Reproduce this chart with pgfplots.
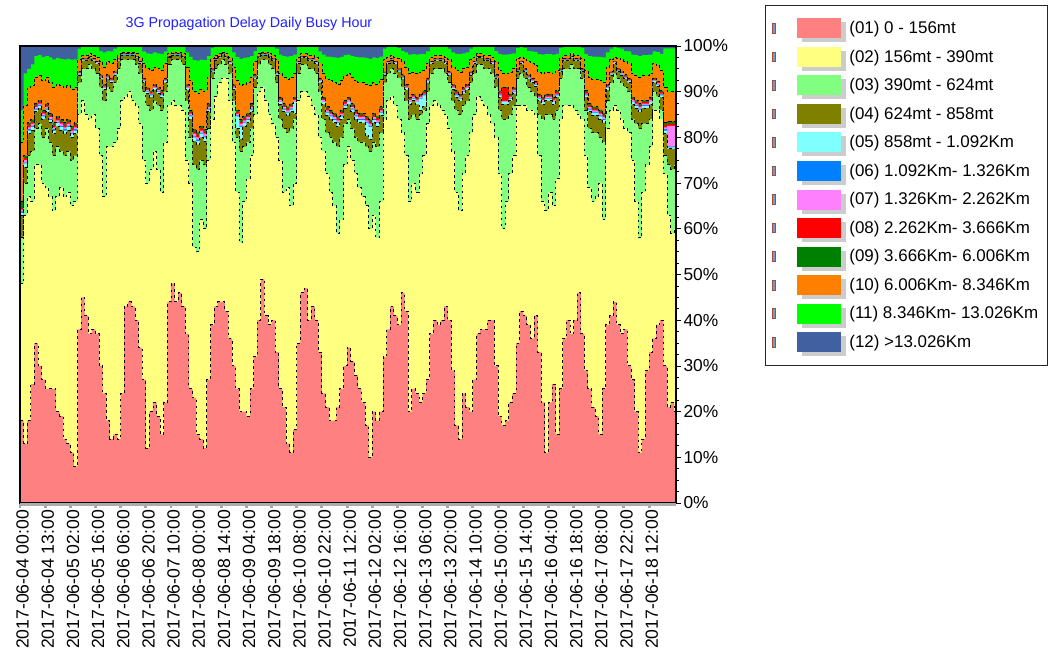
\documentclass[border=0pt]{standalone}
\usepackage{pgfplots}
\pgfplotsset{compat=1.18}
\usepackage{pgfplotstable}
\usepackage{fontspec}
\setmainfont{Liberation Sans}
\definecolor{c01}{RGB}{255,128,128}
\definecolor{c02}{RGB}{255,255,128}
\definecolor{c03}{RGB}{128,255,128}
\definecolor{c04}{RGB}{128,128,0}
\definecolor{c05}{RGB}{128,255,255}
\definecolor{c06}{RGB}{0,128,255}
\definecolor{c07}{RGB}{255,128,255}
\definecolor{c08}{RGB}{255,0,0}
\definecolor{c09}{RGB}{0,128,0}
\definecolor{c10}{RGB}{255,128,0}
\definecolor{c11}{RGB}{0,255,0}
\definecolor{c12}{RGB}{64,96,160}
\definecolor{titleblue}{RGB}{32,32,255}
\definecolor{iconbrown}{RGB}{160,80,50}
\definecolor{iconblue}{RGB}{120,150,210}

\pgfplotstableread{
i b1 b2 b3 b4 b5 b6 b7 b8 b9 b10 b11
0 18 48 58 63.0 63.5 63.8 64.2 64.6 66.0 79.0 86.0
2 13 63 70 73.5 74.3 74.5 75.0 75.5 76.0 87.0 94.0
4 18 67 76 80.8 81.5 81.8 82.2 82.7 83.2 90.9 95.0
6 26 66 77 81.6 82.3 82.5 83.0 83.4 83.9 91.3 96.0
8 35 74 82 85.6 86.1 86.3 86.7 87.0 87.4 93.2 97.8
10 30 74 83 86.4 86.9 87.1 87.4 87.8 88.1 93.5 98.0
12 27 70 80 84.0 84.6 84.8 85.2 85.6 86.0 92.4 97.6
14 25 69 82 85.6 86.1 86.3 86.7 87.0 87.4 93.2 97.8
16 25 67 79 83.2 83.8 84.0 84.5 84.9 85.3 92.0 97.5
18 25 64 76 80.8 81.5 81.8 82.2 82.7 83.2 90.9 97.1
20 20 67 78 82.4 83.1 83.3 83.7 84.2 84.6 91.6 97.4
22 19 69 77 81.6 82.3 82.5 83.0 83.4 83.9 91.3 97.2
24 14 67 76 80.8 81.5 81.8 82.2 82.7 83.2 90.9 97.1
26 13 68 77 81.6 82.3 82.5 83.0 83.4 83.9 91.3 97.2
28 11 65 75 80.0 80.8 81.0 81.5 82.0 82.5 90.5 97.0
30 8 66 76 80.8 81.5 81.8 82.2 82.7 83.2 90.9 97.1
32 38 85 92 93.6 93.8 93.9 94.1 94.2 94.4 97.0 99.4
34 45 88 95 96.8 96.9 97.0 97.1 97.2 97.3 97.9 100
36 41 85 95 96.8 96.9 97.0 97.1 97.2 97.3 97.9 100
38 37 84 96 97.4 97.5 97.6 97.6 97.7 97.8 98.3 100
40 38 85 95 96.8 96.9 97.0 97.1 97.2 97.3 97.9 100
42 37 82 94 96.1 96.3 96.3 96.5 96.6 96.7 97.5 100
44 30 76 91 92.8 93.1 93.2 93.3 93.5 93.7 96.6 98.9
46 24 67 88 90.4 90.8 90.9 91.1 91.4 91.6 95.4 98.6
48 18 78 91 92.8 93.1 93.2 93.3 93.5 93.7 96.6 98.9
50 14 78 90 92.0 92.3 92.4 92.6 92.8 93.0 96.2 98.8
52 15 79 92 93.6 93.8 93.9 94.1 94.2 94.4 97.0 99.4
54 14 82 95 96.8 96.9 97.0 97.1 97.2 97.3 97.9 100
56 24 88 97 98.0 98.1 98.2 98.2 98.3 98.4 98.7 100
58 43 89 97 98.0 98.1 98.2 98.2 98.3 98.4 98.7 100
60 44 90 97 98.0 98.1 98.2 98.2 98.3 98.4 98.7 100
62 43 88 97 98.0 98.1 98.2 98.2 98.3 98.4 98.7 100
64 40 87 96 97.4 97.5 97.6 97.6 97.7 97.8 98.3 100
66 34 83 94 96.1 96.3 96.3 96.5 96.6 96.7 97.5 100
68 27 75 90 92.0 92.3 92.4 92.6 92.8 93.0 96.2 98.8
70 12 70 87 89.6 90.0 90.1 90.4 90.6 90.9 95.1 98.4
72 20 73 86 88.8 89.2 89.4 89.6 89.9 90.2 94.7 98.3
74 22 77 88 90.4 90.8 90.9 91.1 91.4 91.6 95.4 98.6
76 19 73 87 89.6 90.0 90.1 90.4 90.6 90.9 95.1 98.4
78 15 68 86 88.8 89.2 89.4 89.6 89.9 90.2 94.7 98.3
80 22 79 90 92.0 92.3 92.4 92.6 92.8 93.0 96.2 98.8
82 44 87 96 97.4 97.5 97.6 97.6 97.7 97.8 98.3 100
84 48 88 97 98.0 98.1 98.2 98.2 98.3 98.4 98.7 100
86 44 87 97 98.0 98.1 98.2 98.2 98.3 98.4 98.7 100
88 46 87 97 98.0 98.1 98.2 98.2 98.3 98.4 98.7 100
90 43 86 96 97.4 97.5 97.6 97.6 97.7 97.8 98.3 100
92 37 75 88 90.4 90.8 90.9 91.1 91.4 91.6 95.4 98.6
94 25 70 80 84.0 84.6 84.8 85.2 85.6 86.0 92.4 97.6
96 23 56 74 79.2 80.0 80.2 80.8 81.3 81.8 90.1 96.9
98 15 55 73 78.4 79.2 79.5 80.0 80.6 81.1 89.7 96.8
100 14 62 75 80.0 80.8 81.0 81.5 82.0 82.5 90.5 97.0
102 12 60 74 79.2 80.0 80.2 80.8 81.3 81.8 90.1 96.9
104 27 75 82 85.6 86.1 86.3 86.7 87.0 87.4 93.2 97.8
106 39 84 93 94.4 94.6 94.7 94.8 95.0 95.1 97.3 99.6
108 43 89 95 96.8 96.9 97.0 97.1 97.2 97.3 97.9 100
110 44 92 96 97.4 97.5 97.6 97.6 97.7 97.8 98.3 100
112 44 93 97 98.0 98.1 98.2 98.2 98.3 98.4 98.7 100
114 42 93 96 97.4 97.5 97.6 97.6 97.7 97.8 98.3 100
116 36 88 94 96.1 96.3 96.3 96.5 96.6 96.7 97.5 100
118 30 79 88 90.4 90.8 90.9 91.1 91.4 91.6 95.4 98.6
120 25 68 80 82.0 84.6 84.8 85.2 85.6 86.0 92.4 97.6
122 20 57 77 79.6 82.3 82.5 83.0 83.4 83.9 91.3 97.2
124 20 66 78 82.4 83.1 83.3 83.7 84.2 84.6 91.6 97.4
126 19 71 79 83.2 83.8 84.0 84.5 84.9 85.3 92.0 97.5
128 25 76 82 85.6 86.1 86.3 86.7 87.0 87.4 93.2 97.8
130 32 85 91 92.8 93.1 93.2 93.3 93.5 93.7 96.6 98.9
132 40 90 96 97.4 97.5 97.6 97.6 97.7 97.8 98.3 100
134 49 91 97 98.0 98.1 98.2 98.2 98.3 98.4 98.7 100
136 41 88 97 98.0 98.1 98.2 98.2 98.3 98.4 98.7 100
138 39 85 96 97.4 97.5 97.6 97.6 97.7 97.8 98.3 100
140 40 83 95 96.8 96.9 97.0 97.1 97.2 97.3 97.9 100
142 33 80 92 93.6 93.8 93.9 94.1 94.2 94.4 97.0 99.4
144 25 75 84 87.2 87.7 87.8 88.2 88.5 88.8 93.9 98.1
146 21 68 82 85.6 86.1 86.3 86.7 87.0 87.4 93.2 97.8
148 13 69 81 84.8 85.4 85.6 85.9 86.3 86.7 92.8 97.7
150 11 65 82 85.6 86.1 86.3 86.7 87.0 87.4 93.2 97.8
152 16 70 84 85.2 87.7 87.8 88.2 88.5 88.8 93.9 98.1
154 35 88 94 96.1 96.3 96.3 96.5 96.6 96.7 97.5 100
156 46 90 96 97.4 97.5 97.6 97.6 97.7 97.8 98.3 100
158 47 90 96 97.4 97.5 97.6 97.6 97.7 97.8 98.3 100
160 40 89 95 96.8 96.9 97.0 97.1 97.2 97.3 97.9 100
162 43 87 95 96.8 96.9 97.0 97.1 97.2 97.3 97.9 100
164 40 85 94 96.1 96.3 96.3 96.5 96.6 96.7 97.5 100
166 33 80 90 92.0 92.3 92.4 92.6 92.8 93.0 96.2 98.8
168 24 77 84 87.2 87.7 87.8 88.2 88.5 88.8 93.9 98.1
170 21 72 81 84.8 85.4 85.6 85.9 86.3 86.7 92.8 97.7
172 18 68 80 84.0 84.6 84.8 85.2 85.6 86.0 92.4 97.6
174 18 65 79 83.2 83.8 84.0 84.5 84.9 85.3 92.0 97.5
176 21 59 78 82.4 83.1 83.3 83.7 84.2 84.6 91.6 97.4
178 25 62 80 84.0 84.6 84.8 85.2 85.6 86.0 92.4 97.6
180 30 74 83 86.4 86.9 87.1 87.4 87.8 88.1 93.5 98.0
182 34 78 84 87.2 87.7 87.8 88.2 88.5 88.8 93.9 98.1
184 31 75 82 85.6 86.1 86.3 86.7 87.0 87.4 93.2 97.8
186 28 72 80 84.0 84.6 84.8 85.2 85.6 86.0 92.4 97.6
188 25 69 79 83.2 83.8 84.0 84.5 84.9 85.3 92.0 97.5
190 22 67 79 83.2 83.8 84.0 84.5 84.9 85.3 92.0 97.5
192 17 65 78 80.4 83.1 83.3 83.7 84.2 84.6 91.6 97.4
194 10 60 77 79.6 82.3 82.5 83.0 83.4 83.9 91.3 97.2
196 20 63 79 83.2 83.8 84.0 84.5 84.9 85.3 92.0 97.5
198 18 58 78 82.4 83.1 83.3 83.7 84.2 84.6 91.6 97.4
200 20 66 81 84.8 85.4 85.6 85.9 86.3 86.7 92.8 97.7
202 32 84 92 93.6 93.8 93.9 94.1 94.2 94.4 97.0 99.4
204 38 88 94 96.1 96.3 96.3 96.5 96.6 96.7 97.5 100
206 43 89 95 96.8 96.9 97.0 97.1 97.2 97.3 97.9 100
208 41 87 94 96.1 96.3 96.3 96.5 96.6 96.7 97.5 100
210 39 84 93 94.4 94.6 94.7 94.8 95.0 95.1 97.3 99.6
212 46 81 91 92.8 93.1 93.2 93.3 93.5 93.7 96.6 98.9
214 42 76 88 90.4 90.8 90.9 91.1 91.4 91.6 95.4 98.6
216 20 66 84 87.2 87.7 87.8 88.2 88.5 88.8 93.9 98.1
218 25 70 85 88.0 88.5 88.6 88.9 89.2 89.5 94.3 98.2
220 24 68 84 87.2 87.7 87.8 88.2 88.5 88.8 93.9 98.1
222 22 72 85 86.0 88.5 88.6 88.9 89.2 89.5 94.3 98.2
224 24 76 86 86.8 89.2 89.4 89.6 89.9 90.2 94.7 98.3
226 27 83 90 92.0 92.3 92.4 92.6 92.8 93.0 96.2 98.8
228 37 87 94 96.1 96.3 96.3 96.5 96.6 96.7 97.5 100
230 40 88 95 96.8 96.9 97.0 97.1 97.2 97.3 97.9 100
232 39 87 95 96.8 96.9 97.0 97.1 97.2 97.3 97.9 100
234 40 86 95 96.8 96.9 97.0 97.1 97.2 97.3 97.9 100
236 43 85 94 96.1 96.3 96.3 96.5 96.6 96.7 97.5 100
238 40 82 92 93.6 93.8 93.9 94.1 94.2 94.4 97.0 99.4
240 29 77 88 90.4 90.8 90.9 91.1 91.4 91.6 95.4 98.6
242 17 68 86 88.8 89.2 89.4 89.6 89.9 90.2 94.7 98.3
244 14 64 85 88.0 88.5 88.6 88.9 89.2 89.5 94.3 98.2
246 24 72 87 89.6 90.0 90.1 90.4 90.6 90.9 95.1 98.4
248 21 76 88 90.4 90.8 90.9 91.1 91.4 91.6 95.4 98.6
250 20 81 92 93.6 93.8 93.9 94.1 94.2 94.4 97.0 99.4
252 27 85 94 96.1 96.3 96.3 96.5 96.6 96.7 97.5 100
254 37 89 96 97.4 97.5 97.6 97.6 97.7 97.8 98.3 100
256 38 88 96 97.4 97.5 97.6 97.6 97.7 97.8 98.3 100
258 38 87 95 96.8 96.9 97.0 97.1 97.2 97.3 97.9 100
260 40 85 95 96.8 96.9 97.0 97.1 97.2 97.3 97.9 100
262 40 83 94 96.1 96.3 96.3 96.5 96.6 96.7 97.5 100
264 30 80 91 92.8 93.1 93.2 93.3 93.5 93.7 96.6 98.9
266 19 72 86 88.8 89.2 89.4 89.6 89.9 90.2 94.7 98.3
268 17 60 84 87.2 87.7 87.8 88.0 90.8 91.0 93.9 98.1
270 18 66 84 87.2 87.7 87.8 88.0 90.8 91.0 93.9 98.1
272 22 72 85 88.0 88.5 88.6 88.9 89.2 89.5 94.3 98.2
274 24 76 87 89.6 90.0 90.1 90.4 90.6 90.9 95.1 98.4
276 35 87 93 94.4 94.6 94.7 94.8 95.0 95.1 97.3 99.6
278 42 87 94 96.1 96.3 96.3 96.5 96.6 96.7 97.5 100
280 41 87 93 94.4 94.6 94.7 94.8 95.0 95.1 97.3 99.6
282 39 86 91 92.8 93.1 93.2 93.3 93.5 93.7 96.6 98.9
284 36 86 90 92.0 92.3 92.4 92.6 92.8 93.0 96.2 98.8
286 41 85 89 91.2 91.5 91.6 91.9 92.1 92.3 95.8 98.7
288 33 76 85 88.0 88.5 88.6 88.9 89.2 89.5 94.3 98.2
290 22 66 84 87.2 87.7 87.8 88.2 88.5 88.8 93.9 98.1
292 11 64 85 88.0 88.5 88.6 88.9 89.2 89.5 94.3 98.2
294 22 68 85 88.0 88.5 88.6 88.9 89.2 89.5 94.3 98.2
296 26 65 84 87.2 87.7 87.8 88.2 88.5 88.8 93.9 98.1
298 15 71 86 88.8 89.2 89.4 89.6 89.9 90.2 94.7 98.3
300 25 84 93 94.4 94.6 94.7 94.8 95.0 95.1 97.3 99.6
302 36 87 95 96.8 96.9 97.0 97.1 97.2 97.3 97.9 100
304 40 87 95 96.8 96.9 97.0 97.1 97.2 97.3 97.9 100
306 37 87 96 97.4 97.5 97.6 97.6 97.7 97.8 98.3 100
308 40 86 95 96.8 96.9 97.0 97.1 97.2 97.3 97.9 100
310 46 85 95 96.8 96.9 97.0 97.1 97.2 97.3 97.9 100
312 37 84 93 94.4 94.6 94.7 94.8 95.0 95.1 97.3 99.6
314 29 76 86 88.8 89.2 89.4 89.6 89.9 90.2 94.7 98.3
316 25 69 82 85.6 86.1 86.3 86.7 87.0 87.4 93.2 97.8
318 21 66 81 84.8 85.4 85.6 85.9 86.3 86.7 92.8 97.7
320 19 67 81 84.8 85.4 85.6 85.9 86.3 86.7 92.8 97.7
322 15 70 80 84.0 84.6 84.8 85.2 85.6 86.0 92.4 97.6
324 25 62 79 83.2 83.8 84.0 84.5 84.9 85.3 92.0 97.5
326 39 82 88 90.4 90.8 90.9 91.1 91.4 91.6 95.4 98.6
328 41 86 92 93.6 93.8 93.9 94.1 94.2 94.4 97.0 99.4
330 44 87 94 96.1 96.3 96.3 96.5 96.6 96.7 97.5 100
332 39 86 93 94.4 94.6 94.7 94.8 95.0 95.1 97.3 99.6
334 37 84 92 93.6 93.8 93.9 94.1 94.2 94.4 97.0 99.4
336 38 82 91 92.8 93.1 93.2 93.3 93.5 93.7 96.6 98.9
338 30 81 90 92.0 92.3 92.4 92.6 92.8 93.0 96.2 98.8
340 27 75 84 87.2 87.7 87.8 88.2 88.5 88.8 93.9 98.1
342 20 66 83 86.4 86.9 87.1 87.4 87.8 88.1 93.5 98.0
344 11 58 82 85.6 86.1 86.3 86.7 87.0 87.4 93.2 97.8
346 14 68 83 86.4 86.9 87.1 87.4 87.8 88.1 93.5 98.0
348 29 74 83 86.4 86.9 87.1 87.4 87.8 88.1 93.5 98.0
350 33 78 84 87.2 87.7 87.8 88.2 88.5 88.8 93.9 98.1
352 36 86 90 92.0 92.3 92.4 92.6 92.8 93.0 96.2 98.8
354 39 86 89 91.2 91.5 91.6 91.9 92.1 92.3 95.8 98.7
356 40 84 86 88.8 89.2 89.4 89.6 89.9 90.2 94.7 98.3
358 30 72 76 80.8 81.5 81.8 82.2 82.7 83.2 90.9 99.5
360 21 63 74 77.5 77.8 78.0 82.5 83.0 83.5 90.0 99.5
362 22 59 73 77.5 77.8 78.0 82.5 83.0 83.5 90.0 99.5
364 20 60 74 77.5 77.8 78.0 82.5 83.0 83.5 90.0 99.5
365 18 60 74 77.5 77.8 78.0 82.5 83.0 83.5 90.0 99.5
}\data

\begin{document}
\begin{tikzpicture}
\useasboundingbox (0,0) rectangle (790.5pt,498.75pt);
\begin{axis}[
  at={(15pt,121.5pt)}, anchor=south west,
  scale only axis, width=492pt, height=342.75pt,
  xmin=0, xmax=365, ymin=0, ymax=100,
  const plot,
  axis on top,
  axis line style={black, line width=0.9pt},
  /pgf/number format/assume math mode=true,
  tick align=outside,
  major tick length=4pt, minor tick length=2.5pt,
  xtick pos=bottom, ytick pos=right, yticklabel pos=right,
  xtick={0,14,...,350},
  xticklabels={{2017-06-04 00:00},{2017-06-04 13:00},{2017-06-05 02:00},{2017-06-05 16:00},{2017-06-06 06:00},{2017-06-06 20:00},{2017-06-07 10:00},{2017-06-08 00:00},{2017-06-08 14:00},{2017-06-09 04:00},{2017-06-09 18:00},{2017-06-10 08:00},{2017-06-10 22:00},{2017-06-11 12:00},{2017-06-12 02:00},{2017-06-12 16:00},{2017-06-13 06:00},{2017-06-13 20:00},{2017-06-14 10:00},{2017-06-15 00:00},{2017-06-15 14:00},{2017-06-16 04:00},{2017-06-16 18:00},{2017-06-17 08:00},{2017-06-17 22:00},{2017-06-18 12:00}},
  minor x tick num=3,
  x tick style={draw=gray!70, line width=2.2pt},
  xticklabel style={rotate=90, anchor=east, font=\fontsize{13.2}{15}\selectfont, inner sep=1pt, yshift=-2pt},
  ytick={0,10,...,100},
  minor y tick num=3,
  y tick style={black, line width=0.6pt},
  yticklabel={\pgfmathprintnumber{\tick}\%},
  yticklabel style={font=\fontsize{13}{15}\selectfont, inner sep=1.5pt},
  title={3G Propagation Delay Daily Busy Hour},
  title style={at={(0.349,1)}, anchor=center, yshift=11pt, font=\fontsize{10.7}{12}\selectfont, text=titleblue},
  reverse legend,
  legend cell align=left,
  legend style={at={(1.1357,1.0897)}, anchor=north west, draw=black!85, line width=0.6pt,
    inner xsep=5pt, inner ysep=6.5pt, row sep=0pt,
    font=\fontsize{12.7}{14}\selectfont},
  legend image code/.code={
    \path[draw=none, fill=none] (0pt,-10.7pt) rectangle (56pt,10.7pt);
    \fill[gray!40, draw=none] (22.5pt,-10.5pt) rectangle (55.5pt,4.5pt);
    \path[#1, draw=none] (18.75pt,-7.5pt) rectangle (51.75pt,7.5pt);
    \path[line width=0.6pt, draw=iconbrown, fill=iconblue] (0.6pt,-3.6pt) rectangle (2.6pt,3.6pt);
  },
  after end axis/.code={
    \fill[gray!65] (rel axis cs:0,0) rectangle ([yshift=-2.5pt]rel axis cs:1,0);
  },
]
\addplot[fill=c12, draw=none] coordinates {(0,100) (365,100)} \closedcycle;
\addlegendentry{(12) >13.026Km}
\addplot[fill=c11, draw=none] table[x=i,y=b11]{\data} \closedcycle;
\addlegendentry{(11) 8.346Km- 13.026Km}
\addplot[fill=c10, draw=none] table[x=i,y=b10]{\data} \closedcycle;
\addlegendentry{(10) 6.006Km- 8.346Km}
\addplot[fill=c09, draw=none] table[x=i,y=b9]{\data} \closedcycle;
\addlegendentry{(09) 3.666Km- 6.006Km}
\addplot[fill=c08, draw=none] table[x=i,y=b8]{\data} \closedcycle;
\addlegendentry{(08) 2.262Km- 3.666Km}
\addplot[fill=c07, draw=none] table[x=i,y=b7]{\data} \closedcycle;
\addlegendentry{(07) 1.326Km- 2.262Km}
\addplot[fill=c06, draw=none] table[x=i,y=b6]{\data} \closedcycle;
\addlegendentry{(06) 1.092Km- 1.326Km}
\addplot[fill=c05, draw=none] table[x=i,y=b5]{\data} \closedcycle;
\addlegendentry{(05) 858mt - 1.092Km}
\addplot[fill=c04, draw=none] table[x=i,y=b4]{\data} \closedcycle;
\addlegendentry{(04) 624mt - 858mt}
\addplot[fill=c03, draw=none] table[x=i,y=b3]{\data} \closedcycle;
\addlegendentry{(03) 390mt - 624mt}
\addplot[fill=c02, draw=none] table[x=i,y=b2]{\data} \closedcycle;
\addlegendentry{(02) 156mt - 390mt}
\addplot[fill=c01, draw=none] table[x=i,y=b1]{\data} \closedcycle;
\addlegendentry{(01) 0 - 156mt}
\addplot[forget plot, black, line width=0.7pt, dash pattern=on 2pt off 2.5pt] table[x=i,y=b1]{\data};
\addplot[forget plot, black, line width=0.7pt, dash pattern=on 2pt off 2.5pt] table[x=i,y=b2]{\data};
\addplot[forget plot, black, line width=0.7pt, dash pattern=on 2pt off 2.5pt] table[x=i,y=b3]{\data};
\addplot[forget plot, black, line width=0.7pt, dash pattern=on 2pt off 2pt] table[x=i,y=b4]{\data};
\addplot[forget plot, black, line width=0.6pt, dash pattern=on 2pt off 2pt] table[x=i,y=b9]{\data};
\addplot[forget plot, black, line width=0.6pt, dash pattern=on 2pt off 2pt] table[x=i,y=b10]{\data};
\end{axis}
\end{tikzpicture}
\end{document}
